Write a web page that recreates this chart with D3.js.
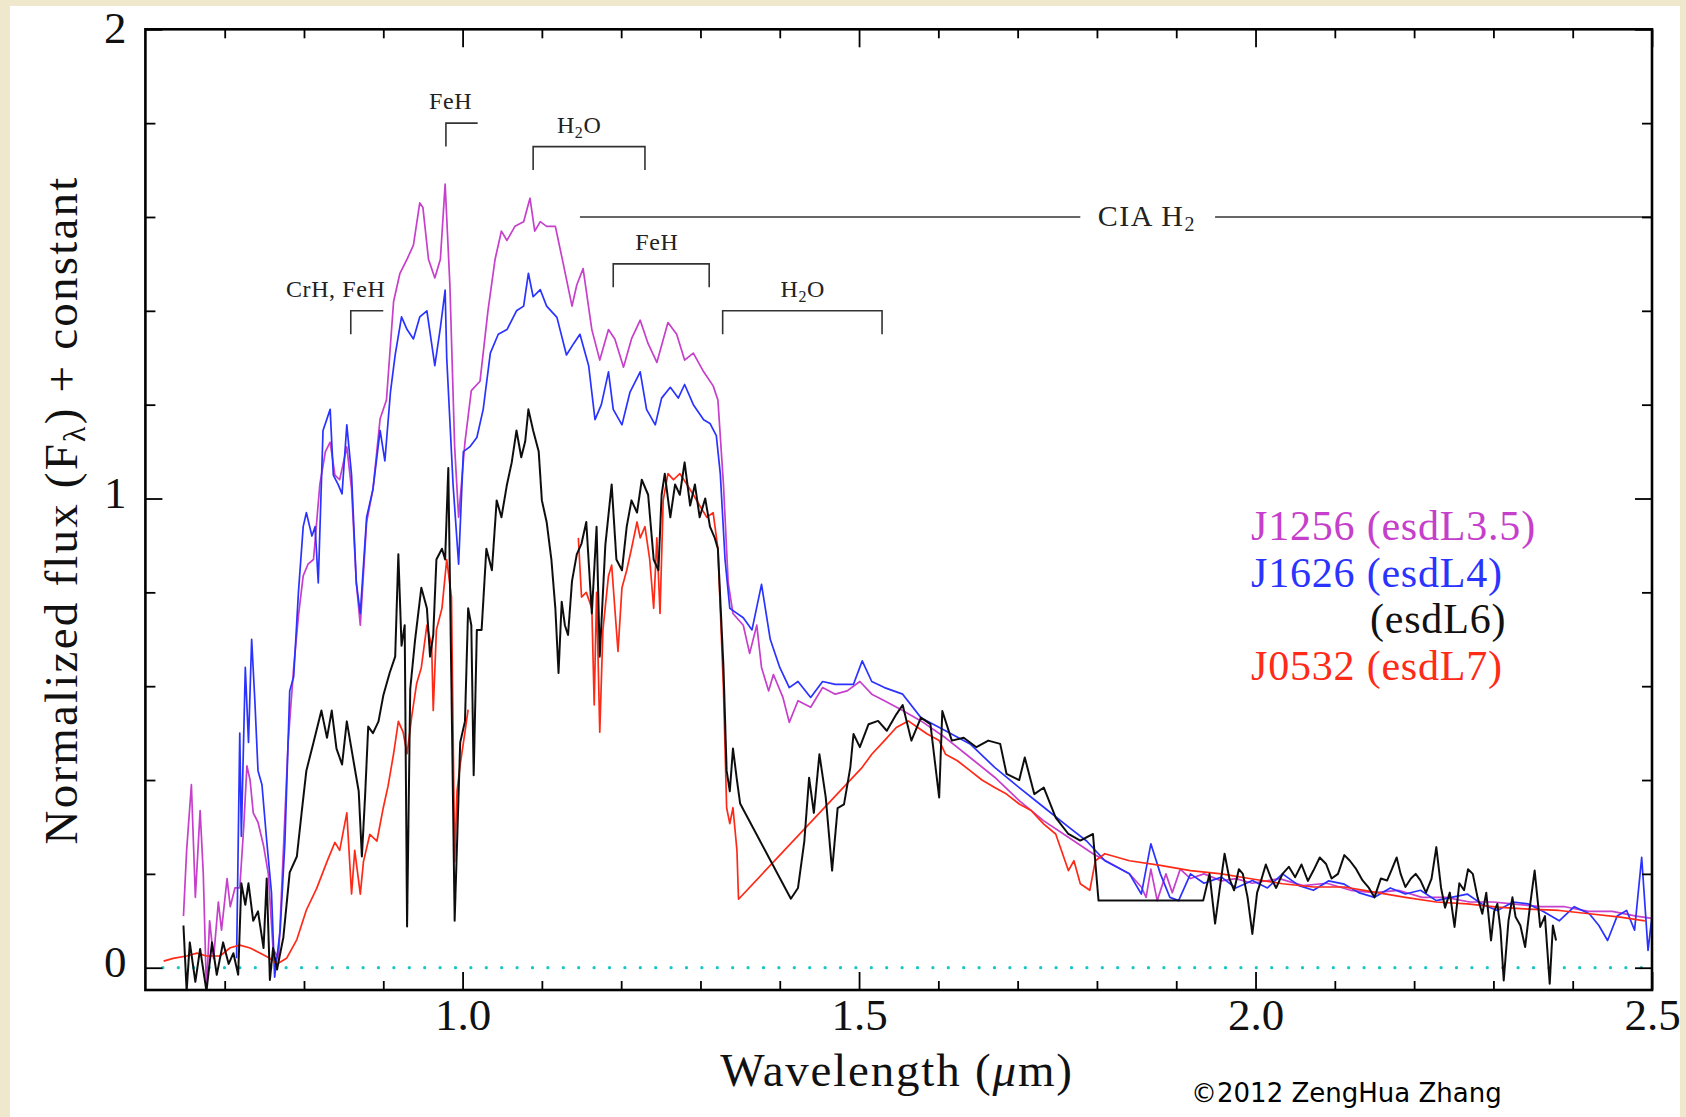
<!DOCTYPE html>
<html lang="en">
<head>
  <meta charset="UTF-8">
  <title>esdL spectra</title>
  <script src="https://cdn.jsdelivr.net/npm/d3@7/dist/d3.min.js"></script>
  <style>
    body { margin: 0; background: #f0e8cc; }
    svg { display: block; }
  </style>
</head>
<body>

<div id="grafica"></div>

<script>
  // [wavelength (micron), normalized flux + constant]
  J1256 = [
    [0.648,0.11],[0.652,0.25],[0.658,0.39],[0.663,0.15],[0.669,0.335],[0.673,0.20],[0.677,-0.05],[0.681,0.10],
    [0.686,0.02],[0.692,0.14],[0.696,0.08],[0.703,0.19],[0.707,0.13],[0.713,0.17],[0.719,0.17],[0.724,0.30],
    [0.728,0.43],[0.732,0.40],[0.736,0.33],[0.742,0.31],[0.749,0.26],[0.755,0.20],[0.761,0.04],[0.768,0.02],
    [0.774,0.25],[0.780,0.48],[0.787,0.64],[0.793,0.75],[0.799,0.835],[0.805,0.86],[0.812,0.87],[0.820,1.03],
    [0.827,1.10],[0.833,1.12],[0.839,1.05],[0.845,1.04],[0.854,1.11],[0.860,1.02],[0.866,0.82],[0.871,0.73],
    [0.879,0.95],[0.887,1.02],[0.896,1.17],[0.904,1.21],[0.913,1.42],[0.921,1.48],[0.930,1.51],[0.938,1.54],
    [0.946,1.63],[0.950,1.62],[0.957,1.51],[0.965,1.47],[0.972,1.51],[0.978,1.67],[0.984,1.455],[0.990,1.11],
    [0.995,0.96],[1.003,1.12],[1.011,1.23],[1.022,1.25],[1.032,1.40],[1.041,1.51],[1.049,1.57],[1.056,1.55],
    [1.066,1.58],[1.077,1.59],[1.085,1.64],[1.091,1.57],[1.098,1.59],[1.106,1.58],[1.117,1.58],[1.127,1.50],
    [1.138,1.41],[1.144,1.455],[1.152,1.49],[1.163,1.36],[1.173,1.295],[1.184,1.36],[1.192,1.34],[1.203,1.28],
    [1.213,1.34],[1.224,1.38],[1.234,1.33],[1.245,1.29],[1.259,1.375],[1.270,1.35],[1.280,1.295],[1.291,1.31],
    [1.304,1.27],[1.316,1.24],[1.322,1.21],[1.329,1.03],[1.335,0.82],[1.341,0.755],[1.354,0.73],[1.362,0.67],
    [1.371,0.73],[1.377,0.64],[1.386,0.59],[1.392,0.625],[1.404,0.576],[1.412,0.523],[1.423,0.569],[1.439,0.555],
    [1.454,0.597],[1.470,0.583],[1.485,0.59],[1.501,0.61],[1.516,0.583],[1.532,0.569],[1.555,0.548],[1.578,0.526],
    [1.609,0.49],[1.640,0.448],[1.671,0.406],[1.702,0.356],[1.733,0.313],[1.764,0.278],[1.795,0.243],[1.826,0.214],
    [1.841,0.20],[1.856,0.172],[1.862,0.15],[1.868,0.21],[1.876,0.143],[1.887,0.20],[1.895,0.16],[1.905,0.21],
    [1.918,0.19],[1.935,0.20],[1.957,0.185],[1.975,0.19],[1.996,0.18],[2.03,0.19],[2.06,0.175],[2.09,0.18],
    [2.12,0.165],[2.15,0.16],[2.18,0.165],[2.21,0.15],[2.24,0.15],[2.27,0.14],[2.30,0.14],[2.33,0.135],
    [2.36,0.13],[2.39,0.13],[2.42,0.12],[2.45,0.12],[2.48,0.11],[2.50,0.105]
  ]

  J1626 = [
    [0.715,0.02],[0.719,0.50],[0.721,0.28],[0.726,0.64],[0.730,0.48],[0.734,0.70],[0.738,0.57],[0.742,0.42],
    [0.747,0.39],[0.753,0.27],[0.759,0.16],[0.763,-0.02],[0.770,0.08],[0.776,0.27],[0.782,0.59],[0.787,0.62],
    [0.793,0.80],[0.799,0.94],[0.803,0.97],[0.810,0.92],[0.814,0.94],[0.818,0.82],[0.824,1.145],[0.833,1.19],
    [0.837,1.05],[0.843,1.03],[0.848,1.01],[0.854,1.157],[0.860,1.05],[0.866,0.82],[0.871,0.755],[0.879,0.96],
    [0.887,1.02],[0.896,1.145],[0.902,1.08],[0.909,1.226],[0.915,1.306],[0.923,1.387],[0.930,1.36],[0.938,1.34],
    [0.946,1.387],[0.955,1.40],[0.965,1.283],[0.972,1.364],[0.978,1.444],[0.980,1.30],[0.988,1.03],[0.995,0.86],
    [1.001,1.10],[1.009,1.11],[1.018,1.13],[1.026,1.19],[1.035,1.31],[1.045,1.35],[1.056,1.36],[1.068,1.40],
    [1.077,1.41],[1.083,1.48],[1.089,1.43],[1.098,1.445],[1.106,1.41],[1.119,1.386],[1.131,1.306],[1.140,1.33],
    [1.148,1.35],[1.159,1.283],[1.167,1.168],[1.175,1.20],[1.184,1.27],[1.190,1.19],[1.201,1.157],[1.211,1.226],
    [1.224,1.27],[1.232,1.19],[1.243,1.157],[1.251,1.214],[1.262,1.237],[1.272,1.214],[1.280,1.243],[1.291,1.20],
    [1.304,1.168],[1.312,1.16],[1.320,1.134],[1.325,1.053],[1.331,0.87],[1.337,0.766],[1.342,0.76],[1.354,0.746],
    [1.365,0.72],[1.377,0.817],[1.388,0.70],[1.400,0.64],[1.412,0.597],[1.423,0.61],[1.439,0.576],[1.454,0.61],
    [1.470,0.604],[1.493,0.604],[1.504,0.654],[1.516,0.61],[1.532,0.597],[1.555,0.583],[1.578,0.533],[1.609,0.505],
    [1.640,0.477],[1.671,0.427],[1.702,0.384],[1.733,0.342],[1.764,0.30],[1.787,0.27],[1.810,0.228],[1.841,0.20],
    [1.856,0.157],[1.868,0.264],[1.880,0.20],[1.892,0.15],[1.903,0.143],[1.918,0.20],[1.935,0.18],[1.957,0.193],
    [1.975,0.17],[1.996,0.186],[2.015,0.17],[2.034,0.20],[2.055,0.175],[2.073,0.165],[2.092,0.185],[2.112,0.178],
    [2.130,0.16],[2.150,0.150],[2.170,0.17],[2.189,0.157],[2.208,0.165],[2.228,0.143],[2.247,0.15],[2.267,0.157],
    [2.286,0.135],[2.305,0.122],[2.325,0.14],[2.344,0.136],[2.363,0.12],[2.383,0.10],[2.402,0.13],[2.421,0.115],
    [2.433,0.09],[2.444,0.058],[2.456,0.11],[2.468,0.122],[2.478,0.08],[2.487,0.235],[2.495,0.037],[2.50,0.11]
  ]

  esdL6 = [
    [0.648,0.09],[0.652,-0.05],[0.656,0.054],[0.663,-0.03],[0.669,0.04],[0.677,-0.05],[0.684,0.054],[0.690,-0.015],
    [0.698,0.054],[0.705,0.008],[0.711,0.031],[0.717,-0.015],[0.721,0.18],[0.726,0.134],[0.730,0.18],[0.736,0.10],
    [0.742,0.12],[0.749,0.042],[0.753,0.19],[0.757,-0.026],[0.761,0.042],[0.766,-0.004],[0.774,0.065],[0.782,0.203],
    [0.791,0.237],[0.797,0.33],[0.803,0.42],[0.812,0.48],[0.822,0.548],[0.829,0.49],[0.835,0.548],[0.841,0.467],
    [0.848,0.433],[0.854,0.525],[0.862,0.445],[0.869,0.376],[0.873,0.237],[0.877,0.364],[0.881,0.514],[0.887,0.50],
    [0.894,0.525],[0.900,0.58],[0.908,0.628],[0.915,0.663],[0.919,0.881],[0.923,0.686],[0.927,0.73],[0.930,0.088],
    [0.934,0.594],[0.940,0.697],[0.948,0.81],[0.955,0.766],[0.959,0.663],[0.963,0.709],[0.967,0.87],[0.974,0.893],
    [0.978,0.87],[0.982,1.065],[0.986,0.594],[0.990,0.10],[0.997,0.48],[1.003,0.525],[1.007,0.766],[1.011,0.73],
    [1.014,0.41],[1.018,0.72],[1.024,0.72],[1.030,0.893],[1.037,0.847],[1.043,0.996],[1.049,0.96],[1.056,1.03],
    [1.062,1.077],[1.068,1.145],[1.074,1.088],[1.079,1.122],[1.083,1.19],[1.089,1.145],[1.096,1.10],[1.100,0.996],
    [1.106,0.95],[1.112,0.87],[1.117,0.766],[1.121,0.628],[1.125,0.78],[1.129,0.73],[1.133,0.709],[1.138,0.824],
    [1.144,0.881],[1.150,0.904],[1.156,0.95],[1.163,0.755],[1.169,0.94],[1.173,0.663],[1.180,0.90],[1.188,1.03],
    [1.194,0.87],[1.201,0.847],[1.207,0.94],[1.213,0.996],[1.220,0.97],[1.226,1.04],[1.234,1.008],[1.241,0.87],
    [1.247,0.847],[1.251,1.008],[1.255,1.053],[1.262,0.96],[1.268,1.03],[1.274,1.008],[1.280,1.077],[1.287,0.985],
    [1.293,1.03],[1.299,0.96],[1.306,1.0],[1.312,0.94],[1.318,0.916],[1.322,0.893],[1.329,0.64],[1.333,0.42],
    [1.337,0.376],[1.341,0.467],[1.346,0.40],[1.350,0.35],[1.414,0.147],[1.423,0.17],[1.431,0.27],[1.437,0.405],
    [1.443,0.33],[1.450,0.455],[1.458,0.363],[1.466,0.207],[1.473,0.34],[1.481,0.348],[1.489,0.427],[1.493,0.498],
    [1.501,0.47],[1.512,0.519],[1.524,0.526],[1.535,0.505],[1.547,0.54],[1.555,0.56],[1.566,0.484],[1.578,0.533],
    [1.590,0.519],[1.601,0.363],[1.605,0.547],[1.617,0.484],[1.632,0.49],[1.648,0.47],[1.663,0.484],[1.678,0.477],
    [1.686,0.413],[1.702,0.40],[1.709,0.448],[1.721,0.37],[1.733,0.384],[1.748,0.32],[1.764,0.285],[1.779,0.271],
    [1.795,0.285],[1.802,0.143],[1.934,0.143],[1.942,0.20],[1.949,0.094],[1.955,0.17],[1.961,0.243],[1.967,0.19],
    [1.973,0.165],[1.979,0.21],[1.984,0.20],[1.990,0.15],[1.996,0.072],[2.002,0.16],[2.007,0.186],[2.013,0.22],
    [2.019,0.193],[2.026,0.17],[2.034,0.20],[2.042,0.215],[2.050,0.193],[2.058,0.22],[2.066,0.185],[2.073,0.207],
    [2.081,0.235],[2.089,0.221],[2.096,0.19],[2.104,0.20],[2.112,0.24],[2.119,0.228],[2.127,0.21],[2.135,0.186],
    [2.143,0.17],[2.150,0.15],[2.158,0.19],[2.166,0.186],[2.172,0.21],[2.178,0.235],[2.183,0.20],[2.189,0.172],
    [2.196,0.19],[2.202,0.20],[2.208,0.186],[2.215,0.16],[2.222,0.19],[2.228,0.257],[2.234,0.17],[2.239,0.128],
    [2.245,0.16],[2.251,0.087],[2.257,0.18],[2.263,0.165],[2.268,0.21],[2.274,0.20],[2.280,0.15],[2.286,0.115],
    [2.291,0.16],[2.297,0.058],[2.301,0.12],[2.305,0.136],[2.309,0.08],[2.313,-0.027],[2.319,0.10],[2.324,0.15],
    [2.328,0.108],[2.334,0.09],[2.340,0.044],[2.346,0.13],[2.352,0.207],[2.356,0.14],[2.359,0.087],[2.365,0.11],
    [2.371,-0.034],[2.375,0.09],[2.379,0.058]
  ]

  // null marks the stretch with no data
  J0532 = [
    [0.623,0.014],[0.635,0.02],[0.652,0.025],[0.665,0.031],[0.677,0.025],[0.694,0.025],[0.707,0.0425],[0.719,0.048],
    [0.732,0.042],[0.745,0.031],[0.757,0.02],[0.766,0.008],[0.778,0.02],[0.791,0.06],[0.803,0.123],[0.816,0.169],
    [0.829,0.226],[0.839,0.267],[0.845,0.25],[0.854,0.33],[0.860,0.157],[0.864,0.25],[0.871,0.157],[0.875,0.226],
    [0.883,0.284],[0.892,0.27],[0.900,0.341],[0.906,0.387],[0.913,0.456],[0.919,0.525],[0.925,0.502],[0.930,0.456],
    [0.936,0.537],[0.942,0.605],[0.948,0.64],[0.955,0.73],[0.961,0.686],[0.963,0.548],[0.967,0.72],[0.974,0.766],
    [0.980,0.87],[0.986,0.79],[0.990,0.226],[0.993,0.376],[0.997,0.433],[1.003,0.502],[1.007,0.55],[1.08,null],
    [1.146,0.916],[1.150,0.79],[1.156,0.80],[1.163,0.766],[1.166,0.56],[1.169,0.80],[1.173,0.502],[1.177,0.72],
    [1.184,0.835],[1.188,0.858],[1.192,0.766],[1.196,0.674],[1.201,0.81],[1.207,0.847],[1.213,0.893],[1.220,0.95],
    [1.224,0.916],[1.230,0.94],[1.236,0.87],[1.241,0.766],[1.245,0.916],[1.249,0.755],[1.253,0.996],[1.259,1.053],
    [1.266,1.04],[1.274,1.053],[1.283,1.03],[1.291,1.008],[1.299,0.985],[1.308,0.96],[1.316,0.97],[1.322,0.893],
    [1.329,0.594],[1.333,0.341],[1.337,0.307],[1.341,0.341],[1.346,0.25],[1.348,0.146],[1.504,0.427],[1.516,0.455],
    [1.532,0.484],[1.547,0.512],[1.562,0.526],[1.574,0.512],[1.586,0.498],[1.601,0.484],[1.609,0.455],[1.624,0.441],
    [1.640,0.42],[1.655,0.40],[1.671,0.384],[1.686,0.37],[1.702,0.349],[1.717,0.335],[1.733,0.306],[1.748,0.285],
    [1.764,0.207],[1.771,0.228],[1.779,0.179],[1.791,0.165],[1.798,0.228],[1.810,0.243],[1.841,0.228],[1.880,0.218],
    [1.918,0.207],[1.957,0.20],[1.996,0.189],[2.034,0.179],[2.073,0.172],[2.112,0.172],[2.150,0.161],[2.189,0.150],
    [2.228,0.140],[2.267,0.136],[2.305,0.129],[2.344,0.125],[2.383,0.122],[2.421,0.115],[2.460,0.108],[2.491,0.10]
  ]

  seriesData = [J1256, J1626, J0532, esdL6]
  seriesColor = ['#c63fcb', '#2b33ff', '#ff2a17', '#111111']

  legendText = ['J1256 (esdL3.5)', 'J1626 (esdL4)', '(esdL6)', 'J0532 (esdL7)']
  legendColor = ['#c63fcb', '#2b33ff', '#111111', '#ff2a17']

  xMajor = [1.0, 1.5, 2.0, 2.5]
  xMinor = [0.7, 0.8, 0.9, 1.1, 1.2, 1.3, 1.4, 1.6, 1.7, 1.8, 1.9, 2.1, 2.2, 2.3, 2.4]
  yMajor = [0, 1, 2]
  yMinor = [0.2, 0.4, 0.6, 0.8, 1.2, 1.4, 1.6, 1.8]

  // absorption bands: label, start, end, level, label centre
  bandName  = ['CrH, FeH', 'FeH', 'H_2O', 'FeH', 'H_2O']
  bandFrom  = [0.859, 0.979, 1.089, 1.190, 1.328]
  bandTo    = [0.900, 1.019, 1.230, 1.311, 1.529]
  bandLevel = [1.40, 1.80, 1.75, 1.50, 1.40]
  bandTextX = [0.840, 0.985, 1.147, 1.245, 1.429]
  bandBothLegs = [false, false, true, true, true]

  ancho = 1686
  alto = 1117
  serif = '"Liberation Serif", "DejaVu Serif", serif'

  svg = d3.select('#grafica')
    .append('svg')
    .attr('width', ancho)
    .attr('height', alto)

  // white page on the beige paper
  svg.append('rect')
    .attr('x', 10).attr('y', 6)
    .attr('width', 1670).attr('height', alto - 6)
    .attr('fill', '#ffffff')

  // the original is a slightly soft scan
  svg.append('filter').attr('id', 'soft')
    .append('feGaussianBlur').attr('stdDeviation', 0.5)

  x = d3.scaleLinear().domain([0.6, 2.5]).range([145.4, 1652])
  y = d3.scaleLinear().domain([-0.0475, 2.0]).range([990, 29.3])

  svg.append('clipPath').attr('id', 'area')
    .append('rect')
    .attr('x', x(0.6)).attr('y', y(2))
    .attr('width', x(2.5) - x(0.6)).attr('height', y(-0.0475) - y(2))

  // zero level
  svg.append('line')
    .attr('x1', x(0.622)).attr('x2', x(2.5))
    .attr('y1', y(0)).attr('y2', y(0))
    .attr('stroke', '#1cc6c6')
    .attr('stroke-width', 3.2)
    .attr('stroke-linecap', 'round')
    .attr('stroke-dasharray', '0.1 15.3')

  linea = d3.line()
    .defined(d => d[1] !== null)
    .x(d => x(d[0]))
    .y(d => y(d[1]))

  svg.append('g')
    .attr('clip-path', 'url(#area)')
    .append('g')
    .attr('filter', 'url(#soft)')
    .selectAll('path')
    .data(seriesData)
    .enter()
    .append('path')
    .attr('d', linea)
    .attr('fill', 'none')
    .attr('stroke', (d, i) => seriesColor[i])
    .attr('stroke-width', (d, i) => i == 3 ? 2 : 1.7)
    .attr('stroke-linejoin', 'round')

  // band markers
  function writeLabel(sel, txt, sub) {
    parts = txt.split('_')
    sel.append('tspan').text(parts[0])
    if (parts.length > 1) {
      sel.append('tspan').attr('dy', 5).attr('font-size', sub).text(parts[1][0])
      sel.append('tspan').attr('dy', -5).text(parts[1].slice(1))
    }
  }

  bands = svg.append('g')
  bandName.forEach(function(name, i) {
    x0 = x(bandFrom[i]); x1 = x(bandTo[i])
    yl = y(bandLevel[i]); yb = y(bandLevel[i] - 0.05)
    pts = [[x0, yb], [x0, yl], [x1, yl]]
    if (bandBothLegs[i]) pts.push([x1, yb])
    bands.append('path')
      .attr('d', d3.line()(pts))
      .attr('fill', 'none')
      .attr('stroke', '#333')
      .attr('stroke-width', 1.6)
    t = bands.append('text')
      .attr('x', x(bandTextX[i]))
      .attr('y', y(bandLevel[i] + 0.03))
      .attr('text-anchor', 'middle')
      .attr('font-family', serif)
      .attr('font-size', 24)
      .attr('letter-spacing', 0.6)
      .attr('fill', '#222')
    writeLabel(t, name, 16)
  })

  // collision induced absorption
  bands.append('line')
    .attr('x1', x(1.148)).attr('x2', x(1.779))
    .attr('y1', y(1.6)).attr('y2', y(1.6))
    .attr('stroke', '#333').attr('stroke-width', 1.6)
  bands.append('line')
    .attr('x1', x(1.949)).attr('x2', x(2.5))
    .attr('y1', y(1.6)).attr('y2', y(1.6))
    .attr('stroke', '#333').attr('stroke-width', 1.6)
  cia = bands.append('text')
    .attr('x', x(1.863))
    .attr('y', y(1.58))
    .attr('text-anchor', 'middle')
    .attr('font-family', serif)
    .attr('font-size', 30)
    .attr('letter-spacing', 1.5)
    .attr('fill', '#222')
  writeLabel(cia, 'CIA H_2', 20)

  // axes: ticks inside on all four sides
  function ticks(axis, vals, len, tr) {
    g = svg.append('g')
      .attr('transform', tr)
      .call(axis.tickValues(vals).tickSizeInner(-len).tickSizeOuter(0))
    g.select('.domain').remove()
    g.selectAll('line').attr('stroke', '#000').attr('stroke-width', 1.8)
    g.selectAll('text').remove()
  }

  bx = svg.append('g')
    .attr('transform', 'translate(0,990)')
    .call(d3.axisBottom(x).tickValues(xMajor).tickSizeInner(-18).tickSizeOuter(0)
      .tickPadding(8).tickFormat(d3.format('.1f')))
  bx.select('.domain').remove()
  bx.selectAll('line').attr('stroke', '#000').attr('stroke-width', 1.8)
  bx.selectAll('text')
    .attr('font-family', serif).attr('font-size', 45).attr('fill', '#111')

  ly = svg.append('g')
    .attr('transform', 'translate(145.4,0)')
    .call(d3.axisLeft(y).tickValues(yMajor).tickSizeInner(-17).tickSizeOuter(0)
      .tickPadding(19).tickFormat(d3.format('d')))
  ly.select('.domain').remove()
  ly.selectAll('line').attr('stroke', '#000').attr('stroke-width', 1.8)
  ly.selectAll('text')
    .attr('dy', d => d == 2 ? '0.3em' : '0.2em')
    .attr('font-family', serif).attr('font-size', 45).attr('fill', '#111')

  ticks(d3.axisBottom(x), xMinor, 9, 'translate(0,990)')
  ticks(d3.axisTop(x), xMajor, 18, 'translate(0,29.3)')
  ticks(d3.axisTop(x), xMinor, 9, 'translate(0,29.3)')
  ticks(d3.axisLeft(y), yMinor, 10, 'translate(145.4,0)')
  ticks(d3.axisRight(y), yMajor, 17, 'translate(1652,0)')
  ticks(d3.axisRight(y), yMinor, 10, 'translate(1652,0)')

  // frame
  svg.append('rect')
    .attr('x', x(0.6)).attr('y', y(2))
    .attr('width', x(2.5) - x(0.6)).attr('height', y(-0.0475) - y(2))
    .attr('fill', 'none')
    .attr('stroke', '#000')
    .attr('stroke-width', 2.6)

  // axis titles
  xt = svg.append('text')
    .attr('x', 897).attr('y', 1086)
    .attr('text-anchor', 'middle')
    .attr('font-family', serif).attr('font-size', 47)
    .attr('letter-spacing', 1.8)
    .attr('fill', '#111')
  xt.append('tspan').text('Wavelength (')
  xt.append('tspan').attr('font-style', 'italic').text('μ')
  xt.append('tspan').text('m)')

  yt = svg.append('text')
    .attr('transform', 'translate(77,510) rotate(-90)')
    .attr('text-anchor', 'middle')
    .attr('font-family', serif).attr('font-size', 47)
    .attr('letter-spacing', 2.2)
    .attr('fill', '#111')
  yt.append('tspan').text('Normalized flux (F')
  yt.append('tspan').attr('dy', 8).attr('font-size', 32).text('λ')
  yt.append('tspan').attr('dy', -8).text(') + constant')

  // legend
  legendX = [1251, 1251, 1370, 1251]
  svg.append('g')
    .selectAll('text')
    .data(legendText)
    .enter()
    .append('text')
    .attr('x', (d, i) => legendX[i])
    .attr('y', (d, i) => 540 + i * 46.7)
    .attr('font-family', serif)
    .attr('font-size', 42)
    .attr('letter-spacing', 0.8)
    .attr('fill', (d, i) => legendColor[i])
    .text(d => d)

  svg.append('text')
    .attr('x', 1191).attr('y', 1102)
    .attr('font-family', '"DejaVu Sans", "Liberation Sans", sans-serif')
    .attr('font-size', 26)
    .attr('fill', '#000')
    .text('©2012 ZengHua Zhang')
</script>

</body>
</html>
